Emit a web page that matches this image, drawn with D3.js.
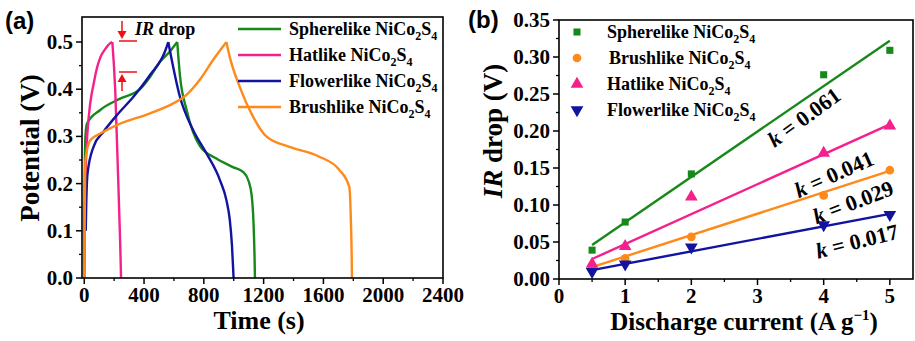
<!DOCTYPE html>
<html>
<head>
<meta charset="utf-8">
<script src="https://cdn.jsdelivr.net/npm/d3@7"></script>
<style>
    body { margin: 0; background: #fff; }
    svg text { font-family: "Liberation Serif", "Times New Roman", Times, serif; font-weight: 700; }
    svg text.sans { font-family: "Liberation Sans", Arial, sans-serif; }
</style>
</head>
<body>
<div id="chart"></div>
<script>
// ---------------------------- data: panel (a), GCD curves [time s, potential V] ----------------------------
const sphereCharge = [[0, 0], [3, 0.2], [8, 0.3], [18, 0.327], [107, 0.356], [240, 0.38], [373, 0.40], [440, 0.426], [507, 0.458], [573, 0.48], [622, 0.5]];
const sphereDischarge = [[622, 0.5], [640, 0.43], [685, 0.356], [773, 0.28], [884, 0.253], [995, 0.235], [1062, 0.225], [1100, 0.205], [1120, 0.175], [1132, 0.12], [1139, 0.05], [1142, 0]];
const hatCharge = [[0, 0], [5, 0.14], [12, 0.25], [22, 0.31], [40, 0.37], [62, 0.41], [85, 0.445], [107, 0.467], [140, 0.485], [172, 0.497], [188, 0.5]];
const hatDischarge = [[188, 0.5], [207, 0.40], [225, 0.23], [238, 0.1], [244, 0.03], [246, 0]];
const flowerCharge = [[10, 0.1], [13, 0.15], [22, 0.221], [62, 0.278], [129, 0.31], [218, 0.345], [329, 0.384], [440, 0.43], [540, 0.48], [562, 0.5]];
const flowerDischarge = [[562, 0.5], [640, 0.384], [729, 0.313], [818, 0.264], [907, 0.208], [951, 0.165], [973, 0.125], [988, 0.07], [996, 0.02], [999, 0]];
const brushCharge = [[0, 0], [4, 0.15], [8, 0.25], [40, 0.292], [107, 0.306], [218, 0.324], [440, 0.349], [596, 0.37], [684, 0.388], [773, 0.42], [862, 0.462], [951, 0.5]];
const brushDischarge = [[951, 0.5], [973, 0.469], [1040, 0.405], [1129, 0.342], [1218, 0.30], [1373, 0.278], [1573, 0.257], [1707, 0.229], [1773, 0.193], [1784, 0.12], [1789, 0.05], [1791, 0]];

const gcdNames = ["Spherelike", "Hatlike", "Flowerlike", "Brushlike"];
const gcdColors = ["#17881a", "#f4208c", "#12139e", "#ff8a1c"];
const gcdCurves = [
    [sphereCharge, sphereDischarge],
    [hatCharge, hatDischarge],
    [flowerCharge, flowerDischarge],
    [brushCharge, brushDischarge]
];
const timeTicks = [0, 400, 800, 1200, 1600, 2000, 2400];
const potentialTicks = [0.0, 0.1, 0.2, 0.3, 0.4, 0.5];

// ---------------------------- data: panel (b), IR drop vs current ----------------------------
const currents = [0.5, 1, 2, 4, 5];
const sphereIR = [0.039, 0.077, 0.142, 0.276, 0.309];
const brushIR = [0.017, 0.028, 0.057, 0.113, 0.147];
const hatIR = [0.020, 0.044, 0.111, 0.170, 0.207];
const flowerIR = [0.010, 0.020, 0.043, 0.073, 0.087];
// fitted lines, read at 0.5 and 5 A/g
const fitCurrents = [0.5, 5];
const sphereFit = [0.046, 0.322];
const brushFit = [0.016, 0.146];
const hatFit = [0.027, 0.209];
const flowerFit = [0.012, 0.088];
const slopeLabels = ["0.061", "0.029", "0.041", "0.017"];
const irNames = ["Spherelike", "Brushlike", "Hatlike", "Flowerlike"];
const irColors = ["#17881a", "#ff8a1c", "#f4208c", "#12139e"];
const irSymbols = [d3.symbolSquare, d3.symbolCircle, d3.symbolTriangle, d3.symbolTriangle];
const currentTicks = [0, 1, 2, 3, 4, 5];
const irTicks = [0.00, 0.05, 0.10, 0.15, 0.20, 0.25, 0.30, 0.35];

const WIDTH = 915, HEIGHT = 341;
const svg = d3.select("#chart").append("svg")
    .attr("width", WIDTH)
    .attr("height", HEIGHT);

// adds "NiCo2S4" with subscripts to a text element
function addFormula(text, name) {
    text.append("tspan").text(name + " NiCo");
    text.append("tspan").attr("dy", 5).style("font-size", "12px").text("2");
    text.append("tspan").attr("dy", -5).text("S");
    text.append("tspan").attr("dy", 5).style("font-size", "12px").text("4");
}

function drawFrame(g, x, y, xTicks, yTicks, xMinor, yMinor, xFmt, yFmt) {
    const [x0, x1] = x.range();
    const [y0, y1] = y.range();

    // minor ticks
    g.append("g").selectAll("line").data(xMinor).enter().append("line")
        .attr("x1", d => x(d)).attr("x2", d => x(d))
        .attr("y1", y0).attr("y2", y0 + 3)
        .attr("stroke", "#000").attr("stroke-width", 1.3);
    g.append("g").selectAll("line").data(yMinor).enter().append("line")
        .attr("y1", d => y(d)).attr("y2", d => y(d))
        .attr("x1", x0).attr("x2", x0 - 3)
        .attr("stroke", "#000").attr("stroke-width", 1.3);

    // major ticks + labels
    g.append("g").selectAll("line").data(xTicks).enter().append("line")
        .attr("x1", d => x(d)).attr("x2", d => x(d))
        .attr("y1", y0).attr("y2", y0 + 6)
        .attr("stroke", "#000").attr("stroke-width", 1.5);
    g.append("g").selectAll("text").data(xTicks).enter().append("text")
        .attr("x", d => x(d)).attr("y", y0 + 24)
        .attr("text-anchor", "middle")
        .style("font-size", "21px")
        .text(xFmt);
    g.append("g").selectAll("line").data(yTicks).enter().append("line")
        .attr("y1", d => y(d)).attr("y2", d => y(d))
        .attr("x1", x0).attr("x2", x0 - 6)
        .attr("stroke", "#000").attr("stroke-width", 1.5);
    g.append("g").selectAll("text").data(yTicks).enter().append("text")
        .attr("x", x0 - 9).attr("y", d => y(d) + 7)
        .attr("text-anchor", "end")
        .style("font-size", "21px")
        .text(yFmt);

    // box
    g.append("rect")
        .attr("x", x0).attr("y", y1)
        .attr("width", x1 - x0).attr("height", y0 - y1)
        .attr("fill", "none").attr("stroke", "#000").attr("stroke-width", 1.6);
}

// ---------------------------------- panel (a) ------------------------------------
const xA = d3.scaleLinear().domain([-15, 2400]).range([82, 443]);
const yA = d3.scaleLinear().domain([0, 0.553]).range([278, 17]);
const gA = svg.append("g");

const lineA = d3.line()
    .x(d => xA(d[0]))
    .y(d => yA(d[1]))
    .curve(d3.curveMonotoneX);

gcdCurves.forEach((segs, i) => {
    segs.forEach(seg => {
        gA.append("path")
            .attr("d", lineA(seg))
            .attr("fill", "none")
            .attr("stroke", gcdColors[i])
            .attr("stroke-width", 2.4)
            .attr("stroke-linejoin", "round");
    });
});

drawFrame(gA, xA, yA, timeTicks, potentialTicks,
    d3.range(200, 2400, 400), d3.range(0.05, 0.55, 0.1),
    d => d, d => d3.format(".1f")(d));

// IR drop annotation
const red = "#ee1111";
gA.append("line").attr("x1", 119).attr("x2", 137).attr("y1", 41).attr("y2", 41)
    .attr("stroke", red).attr("stroke-width", 1.5);
gA.append("line").attr("x1", 119).attr("x2", 137).attr("y1", 72).attr("y2", 72)
    .attr("stroke", red).attr("stroke-width", 1.5);
gA.append("line").attr("x1", 122).attr("x2", 122).attr("y1", 21).attr("y2", 33)
    .attr("stroke", red).attr("stroke-width", 1.5);
gA.append("path").attr("d", "M117.5,31 L126.5,31 L122,39 Z").attr("fill", red);
gA.append("line").attr("x1", 122).attr("x2", 122).attr("y1", 80).attr("y2", 91)
    .attr("stroke", red).attr("stroke-width", 1.5);
gA.append("path").attr("d", "M117.5,82 L126.5,82 L122,74 Z").attr("fill", red);
const irText = gA.append("text").attr("x", 135).attr("y", 35).style("font-size", "18px");
irText.append("tspan").style("font-style", "italic").text("IR");
irText.append("tspan").text(" drop");

// legend (a)
const legendRowsA = [29, 55, 81, 107];
gcdNames.forEach((name, i) => {
    gA.append("line")
        .attr("x1", 238).attr("x2", 281)
        .attr("y1", legendRowsA[i]).attr("y2", legendRowsA[i])
        .attr("stroke", gcdColors[i]).attr("stroke-width", 2.6);
    const t = gA.append("text")
        .attr("x", 289).attr("y", legendRowsA[i] + 6)
        .style("font-size", "18px");
    addFormula(t, name);
});

// axis titles (a)
gA.append("text")
    .attr("transform", "translate(39,148) rotate(-90)")
    .attr("text-anchor", "middle")
    .style("font-size", "27px")
    .text("Potential (V)");
gA.append("text")
    .attr("x", 259).attr("y", 329)
    .attr("text-anchor", "middle")
    .style("font-size", "26px")
    .text("Time (s)");
svg.append("text")
    .attr("class", "sans")
    .attr("x", 5).attr("y", 29)
    .style("font-size", "24px")
    .text("(a)");

// ---------------------------------- panel (b) ------------------------------------
const xB = d3.scaleLinear().domain([0, 5.35]).range([559, 913]);
const yB = d3.scaleLinear().domain([0, 0.35]).range([279, 20]);
const gB = svg.append("g");

const irSeries = [sphereIR, brushIR, hatIR, flowerIR];
const fitSeries = [sphereFit, brushFit, hatFit, flowerFit];

fitSeries.forEach((fit, i) => {
    gB.append("line")
        .attr("x1", xB(fitCurrents[0])).attr("y1", yB(fit[0]))
        .attr("x2", xB(fitCurrents[1])).attr("y2", yB(fit[1]))
        .attr("stroke", irColors[i]).attr("stroke-width", 2.4);
});

function symbolPath(i) {
    const sizes = [50, 60, 70, 70];
    return d3.symbol().type(irSymbols[i]).size(sizes[i])();
}

irSeries.forEach((vals, i) => {
    gB.append("g").selectAll("path")
        .data(vals.map((v, j) => [currents[j], v]))
        .enter()
        .append("path")
        .attr("d", symbolPath(i))
        .attr("transform", d => `translate(${xB(d[0])},${yB(d[1])})${i === 3 ? " rotate(180)" : ""}`)
        .attr("fill", irColors[i]);
});

drawFrame(gB, xB, yB, currentTicks, irTicks,
    d3.range(0.5, 5.35, 1), d3.range(0.025, 0.35, 0.05),
    d => d, d => d3.format(".2f")(d));

// slope labels
const slopePos = [[804, 117, -36], [853, 202, -21], [834, 174, -24], [857, 241, -14]];
slopeLabels.forEach((s, i) => {
    const [px, py, ang] = slopePos[i];
    const t = gB.append("text")
        .attr("transform", `translate(${px},${py}) rotate(${ang})`)
        .attr("text-anchor", "middle")
        .attr("dy", "0.35em")
        .style("font-size", "22px");
    t.append("tspan").style("font-style", "italic").text("k");
    t.append("tspan").text(" = " + s);
});

// legend (b)
const legendRowsB = [32, 58, 84, 110];
irNames.forEach((name, i) => {
    gB.append("path")
        .attr("d", symbolPath(i))
        .attr("transform", `translate(577,${legendRowsB[i]})${i === 3 ? " rotate(180)" : ""}`)
        .attr("fill", irColors[i]);
    const t = gB.append("text")
        .attr("x", i === 1 ? 609 : 607).attr("y", legendRowsB[i] + 6)
        .style("font-size", "18px");
    addFormula(t, name);
});

// axis titles (b)
const yTitleB = gB.append("text")
    .attr("transform", "translate(502,131) rotate(-90)")
    .attr("text-anchor", "middle")
    .style("font-size", "27px");
yTitleB.append("tspan").style("font-style", "italic").text("IR");
yTitleB.append("tspan").text(" drop (V)");

const xTitleB = gB.append("text")
    .attr("x", 744).attr("y", 330)
    .attr("text-anchor", "middle")
    .style("font-size", "25px");
xTitleB.append("tspan").text("Discharge current (A g");
xTitleB.append("tspan").attr("dy", -10).style("font-size", "15px").text("\u22121");
xTitleB.append("tspan").attr("dy", 10).text(")");

svg.append("text")
    .attr("class", "sans")
    .attr("x", 468).attr("y", 28)
    .style("font-size", "24px")
    .text("(b)");
</script>
</body>
</html>
